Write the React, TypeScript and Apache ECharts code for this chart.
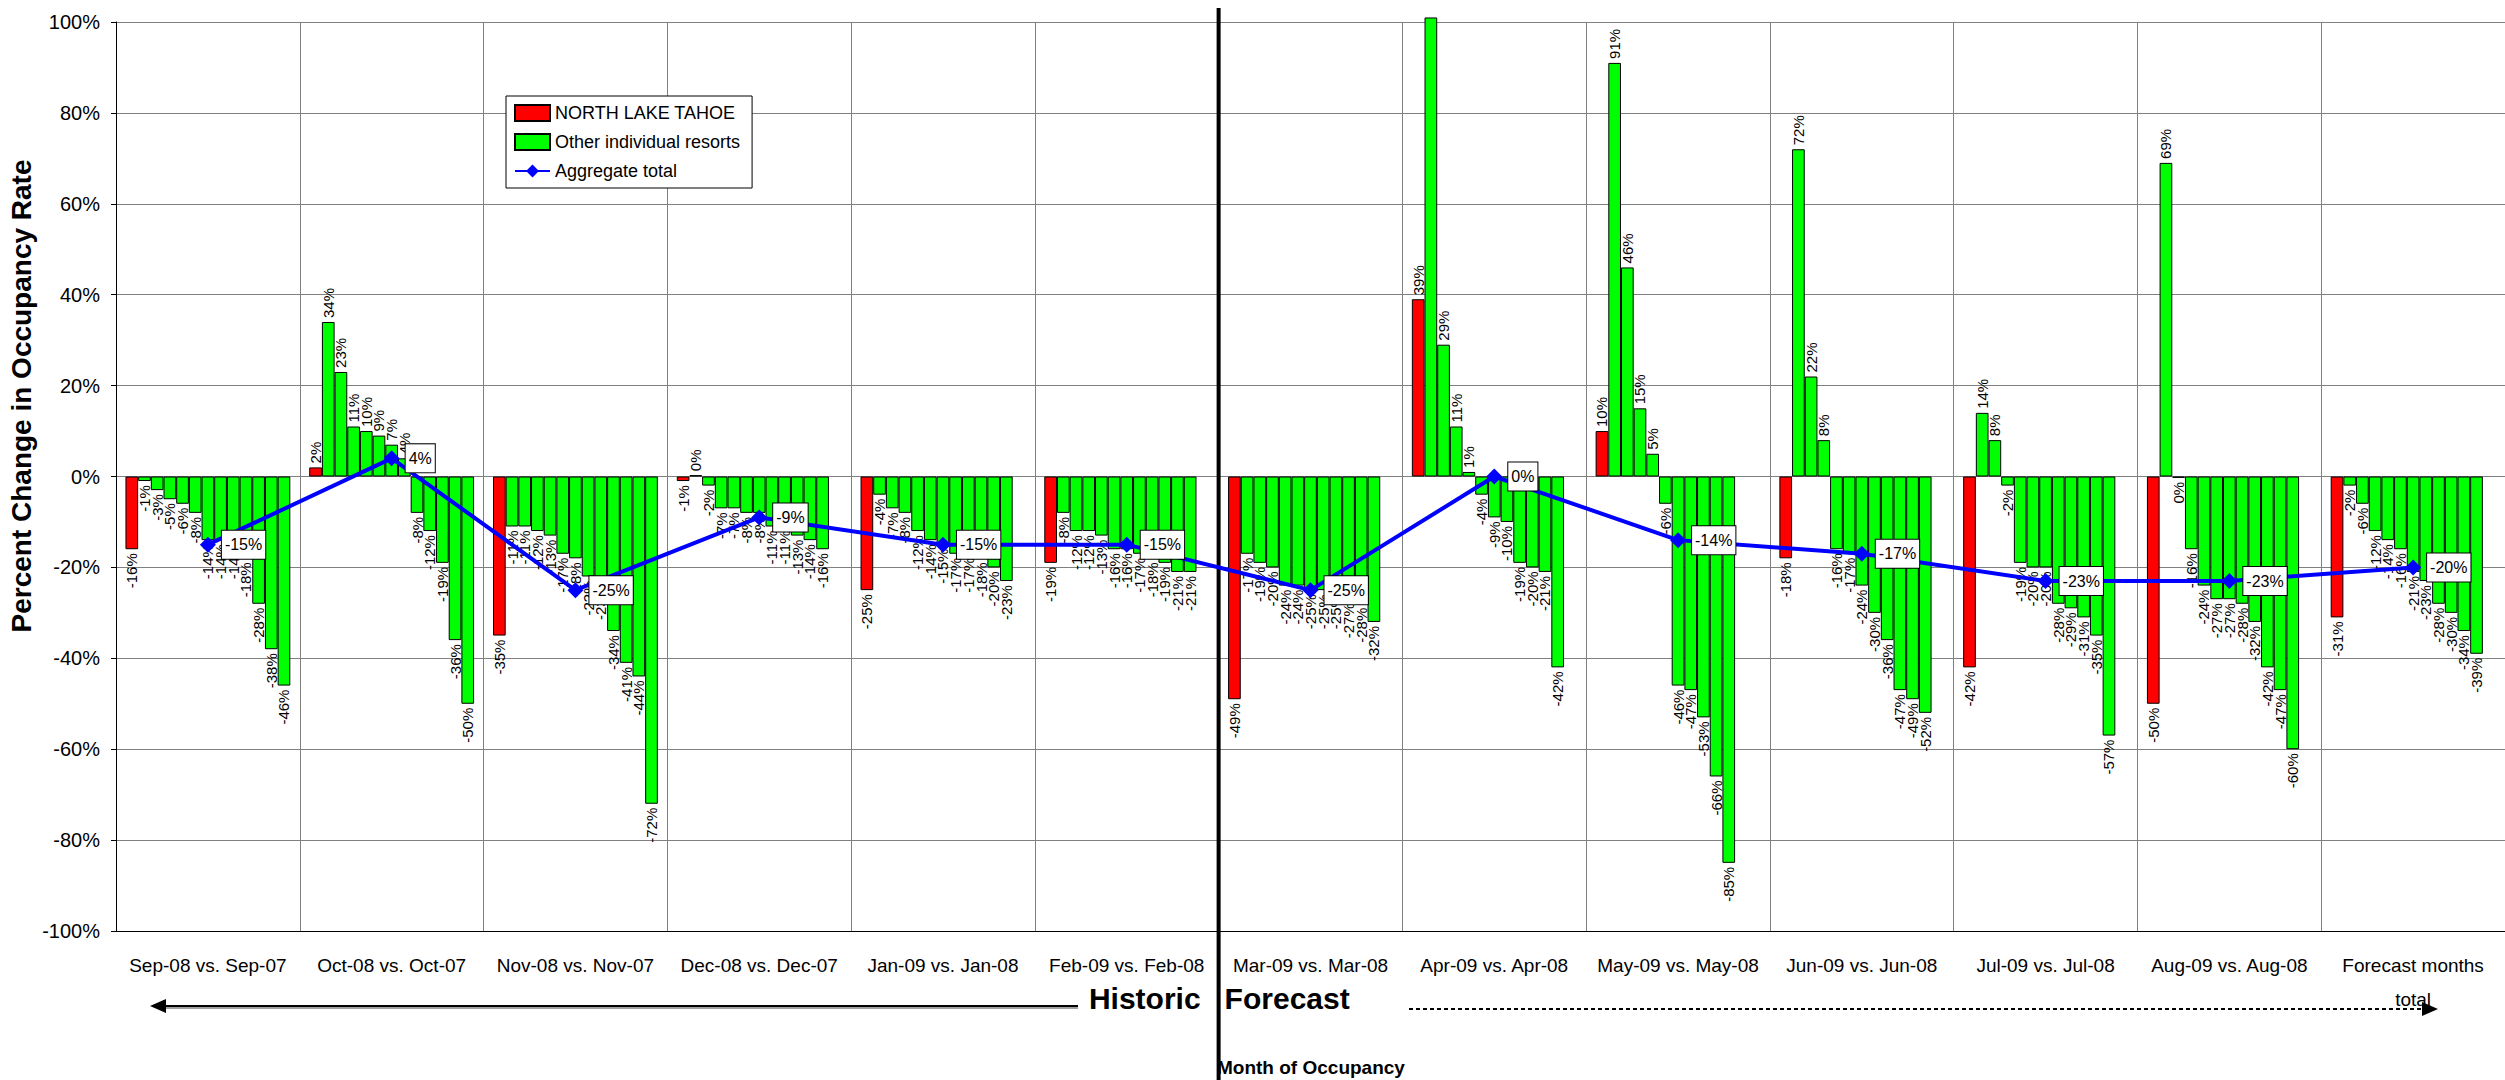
import React, { useEffect, useRef } from 'react';
import * as echarts from 'echarts';

const categories = [
  'Sep-08 vs. Sep-07',
  'Oct-08 vs. Oct-07',
  'Nov-08 vs. Nov-07',
  'Dec-08 vs. Dec-07',
  'Jan-09 vs. Jan-08',
  'Feb-09 vs. Feb-08',
  'Mar-09 vs. Mar-08',
  'Apr-09 vs. Apr-08',
  'May-09 vs. May-08',
  'Jun-09 vs. Jun-08',
  'Jul-09 vs. Jul-08',
  'Aug-09 vs. Aug-08',
  'Forecast months\ntotal',
];

const northLakeTahoe = [-16, 2, -35, -1, -25, -19, -49, 39, 10, -18, -42, -50, -31];
const aggregateTotal = [-15, 4, -25, -9, -15, -15, -25, 0, -14, -17, -23, -23, -20];

const sepOthers = [-1, -3, -5, -6, -8, -14, -14, -14, -18, -28, -38, -46];
const octOthers = [34, 23, 11, 10, 9, 7, 4, -8, -12, -19, -36, -50];
const novOthers = [-11, -11, -12, -13, -17, -18, -22, -23, -34, -41, -44, -72];
const decOthers = [0.3, -2, -7, -7, -8, -8, -11, -11, -13, -14, -16];
const janOthers = [-4, -7, -8, -12, -14, -15, -17, -17, -18, -20, -23];
const febOthers = [-8, -12, -12, -13, -16, -16, -17, -18, -19, -21, -21];
const marOthers = [-17, -19, -20, -24, -24, -25, -25, -25, -27, -28, -32];
const aprOthers = [101, 29, 11, 1, -4, -9, -10, -19, -20, -21, -42];
const mayOthers = [91, 46, 15, 5, -6, -46, -47, -53, -66, -85];
const junOthers = [72, 22, 8, -16, -17, -24, -30, -36, -47, -49, -52];
const julOthers = [14, 8, -2, -19, -20, -20, -28, -29, -31, -35, -57];
const augOthers = [69, -0.3, -16, -24, -27, -27, -28, -32, -42, -47, -60];
const fcstOthers = [-2, -6, -12, -14, -16, -21, -23, -28, -30, -34, -39];

const othersByCategory = [
  sepOthers, octOthers, novOthers, decOthers, janOthers, febOthers, marOthers,
  aprOthers, mayOthers, junOthers, julOthers, augOthers, fcstOthers,
];

const yMin = -100;
const yMax = 100;
const yInterval = 20;

const FONT = "'Liberation Sans', Arial, sans-serif";

export default function App() {
  const ref = useRef<HTMLDivElement>(null);

  useEffect(() => {
    const chart = echarts.init(ref.current as HTMLDivElement, null, { renderer: 'svg' });

    const barItem = (v: number | undefined) => {
      if (v === undefined) return '-';
      const pos = v >= 0 ? 'top' : 'bottom';
      const align = v >= 0 ? 'left' : 'right';
      return { value: v, label: { position: pos, align } };
    };

    const barLabel = {
      show: true,
      rotate: 90,
      verticalAlign: 'middle',
      distance: 4,
      fontSize: 15,
      fontFamily: FONT,
      color: '#000',
      formatter: (p: any) => (p.value > yMax ? '' : Math.round(p.value) + '%'),
    };

    const slotCount = Math.max(...othersByCategory.map((a) => a.length));
    const series: any[] = [];
    series.push({
      name: 'NORTH LAKE TAHOE',
      type: 'bar',
      barGap: '0%',
      barCategoryGap: '10.3%',
      clip: false,
      itemStyle: { color: '#ff0000', borderColor: '#000', borderWidth: 1 },
      label: barLabel,
      data: northLakeTahoe.map((v) => barItem(v)),
    });
    for (let s = 0; s < slotCount; s++) {
      series.push({
        name: 'Other individual resorts',
        type: 'bar',
        barGap: '0%',
        barCategoryGap: '10.3%',
        clip: false,
        itemStyle: { color: '#00ff00', borderColor: '#000', borderWidth: 1 },
        label: barLabel,
        data: othersByCategory.map((arr) => barItem(arr[s])),
      });
    }
    series.push({
      name: 'Aggregate total',
      type: 'line',
      z: 10,
      symbol: 'diamond',
      symbolSize: 16,
      color: '#0000ff',
      lineStyle: { color: '#0000ff', width: 4 },
      itemStyle: { color: '#0000ff' },
      label: {
        show: true,
        position: 'right',
        distance: 6,
        formatter: (p: any) => p.value + '%',
        fontSize: 16,
        fontFamily: FONT,
        color: '#000',
        backgroundColor: '#fff',
        borderColor: '#000',
        borderWidth: 1,
        padding: [6, 3, 6, 3],
      },
      data: aggregateTotal,
    });

    chart.setOption({
      animation: false,
      textStyle: { fontFamily: FONT, color: '#000' },
      grid: { left: 116, top: 22, width: 2401, height: 909, containLabel: false },
      legend: {
        orient: 'vertical',
        left: 506,
        top: 96,
        backgroundColor: '#fff',
        borderColor: '#000',
        borderWidth: 1,
        padding: [8, 12, 8, 8],
        itemWidth: 35,
        itemHeight: 16,
        itemGap: 11,
        textStyle: { fontSize: 18, fontFamily: FONT, color: '#000' },
        data: [
          { name: 'NORTH LAKE TAHOE', icon: 'rect' },
          { name: 'Other individual resorts', icon: 'rect' },
          { name: 'Aggregate total' },
        ],
      },
      xAxis: {
        type: 'category',
        data: categories,
        axisLine: { onZero: false, lineStyle: { color: '#000', width: 1 } },
        axisTick: { show: false },
        splitLine: { show: true, interval: 0, lineStyle: { color: '#808080', width: 1 } },
        axisLabel: {
          interval: 0,
          fontSize: 19,
          lineHeight: 34,
          margin: 17,
          color: '#000',
          fontFamily: FONT,
        },
      },
      yAxis: {
        type: 'value',
        min: yMin,
        max: yMax,
        interval: yInterval,
        axisLine: { show: true, lineStyle: { color: '#000', width: 1 } },
        axisTick: { show: true, length: 5, lineStyle: { color: '#000' } },
        splitLine: { show: true, lineStyle: { color: '#808080', width: 1 } },
        axisLabel: { formatter: '{value}%', fontSize: 20, margin: 16, color: '#000', fontFamily: FONT },
      },
      series,
    });

    const x5 = chart.convertToPixel({ xAxisIndex: 0 }, 5) as number;
    const x6 = chart.convertToPixel({ xAxisIndex: 0 }, 6) as number;
    const bx = (x5 + x6) / 2;

    chart.setOption({
      graphic: [
        {
          type: 'text',
          x: 21,
          y: 396,
          rotation: Math.PI / 2,
          style: {
            text: 'Percent Change in Occupancy Rate',
            fill: '#000',
            fontSize: 28,
            fontWeight: 'bold',
            fontFamily: FONT,
            textAlign: 'center',
            textVerticalAlign: 'middle',
          },
        },
        {
          type: 'text',
          x: bx - 18,
          y: 998,
          style: {
            text: 'Historic',
            fill: '#000',
            fontSize: 30,
            fontWeight: 'bold',
            fontFamily: FONT,
            textAlign: 'right',
            textVerticalAlign: 'middle',
          },
        },
        {
          type: 'text',
          x: bx + 6,
          y: 998,
          style: {
            text: 'Forecast',
            fill: '#000',
            fontSize: 30,
            fontWeight: 'bold',
            fontFamily: FONT,
            textAlign: 'left',
            textVerticalAlign: 'middle',
          },
        },
        {
          type: 'line',
          shape: { x1: 160, y1: 1008, x2: 1078, y2: 1008 },
          style: { stroke: '#a0a0a0', lineWidth: 2 },
        },
        {
          type: 'line',
          shape: { x1: 160, y1: 1006, x2: 1078, y2: 1006 },
          style: { stroke: '#000', lineWidth: 2 },
        },
        {
          type: 'polygon',
          shape: { points: [[150, 1006], [166, 999], [166, 1013]] },
          style: { fill: '#000' },
        },
        {
          type: 'line',
          shape: { x1: 1409, y1: 1009, x2: 2426, y2: 1009 },
          style: { stroke: '#000', lineWidth: 2, lineDash: [4, 3] },
        },
        {
          type: 'polygon',
          shape: { points: [[2438, 1009], [2422, 1002], [2422, 1016]] },
          style: { fill: '#000' },
        },
        {
          type: 'text',
          x: 1217,
          y: 1067,
          style: {
            text: 'Month of Occupancy',
            fill: '#000',
            fontSize: 19,
            fontWeight: 'bold',
            fontFamily: FONT,
            textAlign: 'left',
            textVerticalAlign: 'middle',
          },
        },
        {
          type: 'line',
          shape: { x1: bx, y1: 8, x2: bx, y2: 1080 },
          style: { stroke: '#000', lineWidth: 4 },
        },
      ],
    });

    return () => {
      chart.dispose();
    };
  }, []);

  return (
    <div
      ref={ref}
      style={{ position: 'fixed', left: 0, top: 0, width: 2505, height: 1080, background: '#fff' }}
    />
  );
}
